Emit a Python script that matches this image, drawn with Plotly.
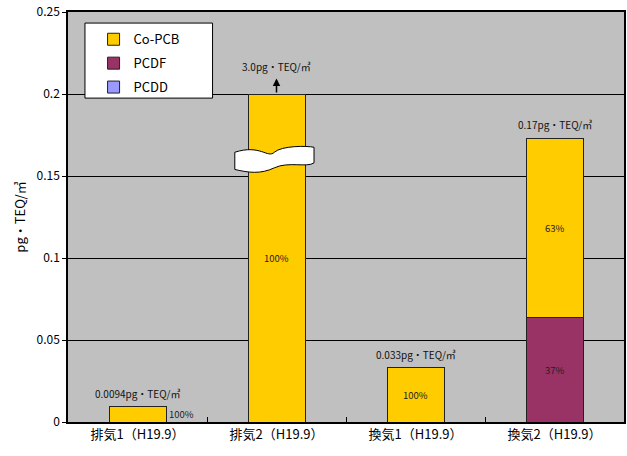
import plotly.graph_objects as go

categories = ["排気1（H19.9）", "排気2（H19.9）", "換気1（H19.9）", "換気2（H19.9）"]
pcdd = [0.0, 0.0, 0.0, 0.0]
pcdf = [0.0, 0.0, 0.0, 0.064]
co_pcb = [0.0094, 3.0, 0.033, 0.109]
total_labels = ["0.0094pg・TEQ/㎥", "3.0pg・TEQ/㎥", "0.033pg・TEQ/㎥", "0.17pg・TEQ/㎥"]
y_ticks = [0, 0.05, 0.1, 0.15, 0.2, 0.25]
y_tick_text = ["0", "0.05", "0.1", "0.15", "0.2", "0.25"]
clip_at = 0.2

FONT = "Noto Sans CJK JP"
x = list(range(len(categories)))
BW = 0.41

co_disp = [min(c, clip_at - (d + f)) for c, d, f in zip(co_pcb, pcdd, pcdf)]

fig = go.Figure()
fig.add_trace(go.Bar(x=x, y=pcdd, name="PCDD", marker=dict(color="#9999FF", line=dict(color="#222", width=1)),
                     width=BW, legendrank=3, legendgroup="g3"))
fig.add_trace(go.Bar(x=x, y=pcdf, name="PCDF", marker=dict(color="#993366", line=dict(color="#222", width=1)),
                     width=BW, legendrank=2, legendgroup="g2"))
fig.add_trace(go.Bar(x=x, y=co_disp, name="Co-PCB", marker=dict(color="#FFCC00", line=dict(color="#222", width=1)),
                     width=BW, legendrank=1, legendgroup="g1"))

ann = []
for i in x:
    tot = pcdd[i] + pcdf[i] + co_pcb[i]
    top = min(tot, clip_at)
    clipped = tot > clip_at
    if clipped:
        ann.append(dict(x=i, y=top + 0.0095, ax=i, ay=top, xref="x", yref="y", axref="x", ayref="y",
                        text="", showarrow=True, arrowhead=2, arrowsize=1, arrowwidth=1.5, arrowcolor="black"))
        ann.append(dict(x=i, y=top + 0.0095, xref="x", yref="y", text=total_labels[i], showarrow=False,
                        yanchor="bottom", yshift=2, font=dict(size=10, family=FONT, color="#111")))
    else:
        ann.append(dict(x=i, y=top, xref="x", yref="y", text=total_labels[i], showarrow=False,
                        yanchor="bottom", yshift=4, font=dict(size=10, family=FONT, color="#111")))
    segs = [(pcdd[i], 0.0), (pcdf[i], pcdd[i]), (co_pcb[i], pcdd[i] + pcdf[i])]
    for val, base in segs:
        if val <= 0:
            continue
        pct = round(val / tot * 100)
        dh = min(val, clip_at - base)
        if dh < 0.015:
            ann.append(dict(x=i + BW / 2, y=base + dh / 2, xref="x", yref="y", text=f"{pct}%", showarrow=False,
                            xanchor="left", xshift=1, font=dict(size=9.5, family=FONT, color="#222")))
        else:
            ann.append(dict(x=i, y=base + dh / 2, xref="x", yref="y", text=f"{pct}%", showarrow=False,
                            font=dict(size=9.5, family=FONT, color="#222")))

shapes = []
for i in x:
    tot = pcdd[i] + pcdf[i] + co_pcb[i]
    if tot > clip_at:
        l, r = i - 0.3, i + 0.27
        yt, h = 0.1655, 0.0095
        m = (l + r) / 2
        path = (f"M {l},{yt - 0.001} C {m - 0.1},{yt + 0.004} {m - 0.05},{yt - 0.005} {m},{yt - 0.001} "
                f"S {r - 0.05},{yt + 0.003} {r},{yt + 0.002} "
                f"L {r},{yt + 0.002 - h} "
                f"C {r - 0.05},{yt - h - 0.001} {m + 0.1},{yt - h + 0.003} {m},{yt - h - 0.001} "
                f"S {l + 0.1},{yt - h - 0.004} {l},{yt - h - 0.002} Z")
        shapes.append(dict(type="path", path=path, xref="x", yref="y", fillcolor="white",
                           line=dict(color="black", width=1)))

# legend box
shapes.append(dict(type="rect", xref="paper", yref="paper", x0=0.0305, x1=0.260, y0=0.790, y1=0.973,
                   fillcolor="white", line=dict(color="black", width=1), layer="above"))

fig.update_layout(
    width=627, height=456,
    margin=dict(l=68, r=1, t=12, b=34),
    paper_bgcolor="white", plot_bgcolor="#C0C0C0",
    barmode="stack",
    font=dict(family=FONT, color="black"),
    showlegend=True,
    legend=dict(x=0.046, y=0.970, xanchor="left", yanchor="top", bgcolor="rgba(0,0,0,0)",
                borderwidth=0, traceorder="grouped", tracegroupgap=4,
                font=dict(size=13, family=FONT)),
    annotations=ann, shapes=shapes,
)
fig.update_xaxes(range=[-0.5, 3.5], tickmode="array", tickvals=x, ticktext=categories, ticks="",
                 showgrid=False, zeroline=False, showline=True, linecolor="black", linewidth=1.5, mirror=True,
                 tickfont=dict(size=13, family=FONT),
                 minor=dict(tickmode="array", tickvals=[i + 0.5 for i in x[:-1]], ticks="inside",
                            ticklen=5, tickcolor="black", showgrid=False))
fig.update_yaxes(range=[0, 0.25], tickmode="array", tickvals=y_ticks, ticktext=y_tick_text,
                 showgrid=True, gridcolor="black", gridwidth=1, zeroline=False,
                 showline=True, linecolor="black", linewidth=1.5, mirror=True,
                 ticks="outside", ticklen=4, tickcolor="black",
                 tickfont=dict(size=12, family=FONT),
                 title=dict(text="pg・TEQ/㎥", font=dict(size=13, family=FONT), standoff=8))

fig.write_html("out.html")
